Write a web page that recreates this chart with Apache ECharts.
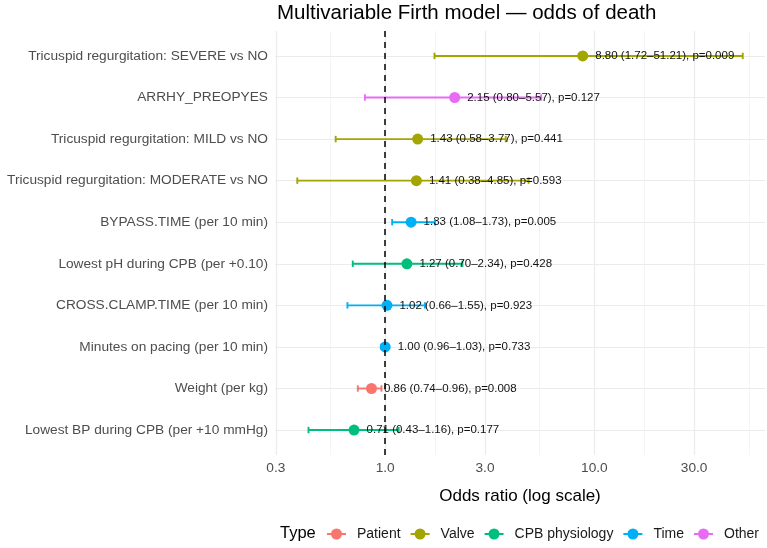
<!DOCTYPE html>
<html>
<head>
<meta charset="utf-8">
<script src="https://cdn.jsdelivr.net/npm/echarts@6/dist/echarts.min.js"></script>
<style>
  html, body { margin: 0; padding: 0; background: #fff; }
  #chart { width: 767px; height: 548px; }
</style>
</head>
<body>
<div id="chart"></div>
<script>
// rows, top to bottom
const terms = [
  "Tricuspid regurgitation: SEVERE vs NO",
  "ARRHY_PREOPYES",
  "Tricuspid regurgitation: MILD vs NO",
  "Tricuspid regurgitation: MODERATE vs NO",
  "BYPASS.TIME (per 10 min)",
  "Lowest pH during CPB (per +0.10)",
  "CROSS.CLAMP.TIME (per 10 min)",
  "Minutes on pacing (per 10 min)",
  "Weight (per kg)",
  "Lowest BP during CPB (per +10 mmHg)"
];
const termTypes = ["Valve", "Other", "Valve", "Valve", "Time", "CPB physiology", "Time", "Time", "Patient", "CPB physiology"];
const oddsRatio = [8.80, 2.15, 1.43, 1.41, 1.33, 1.27, 1.02, 1.00, 0.86, 0.71];
const ciLow     = [1.72, 0.80, 0.58, 0.38, 1.08, 0.70, 0.66, 0.96, 0.74, 0.43];
const ciHigh    = [51.21, 5.57, 3.77, 4.85, 1.73, 2.34, 1.55, 1.03, 0.96, 1.16];
const pValues   = ["0.009", "0.127", "0.441", "0.593", "0.005", "0.428", "0.923", "0.733", "0.008", "0.177"];

const typeNames  = ["Patient", "Valve", "CPB physiology", "Time", "Other"];
const typeColors = ["#F8766D", "#A3A500", "#00BF7D", "#00B0F6", "#E76BF3"];

const majorTicks = [0.3, 1, 3, 10, 30];
const minorTicks = [0.5477, 1.7321, 5.4772, 17.3205, 54.7723];

const FONT = "'Liberation Sans', Arial, sans-serif";

// x limits: data range on log scale, padded 5% each side (like ggplot)
const lo = Math.log10(Math.min(...ciLow));
const hi = Math.log10(Math.max(...ciHigh));
const pad = (hi - lo) * 0.05;
const logMin = lo - pad, logMax = hi + pad;

const rowIdx = terms.map((_, i) => i);
const keyIcon = "path://M0,4.6L19,4.6L19,6.4L0,6.4Z M4,5.5A5.5,5.5 0 1 1 15,5.5A5.5,5.5 0 1 1 4,5.5Z";

function renderErrorBar(params, api) {
  const y = api.value(2);
  const a = api.coord([api.value(0), y]);
  const b = api.coord([api.value(1), y]);
  const cap = 3.2;
  const style = { stroke: api.visual("color"), lineWidth: 1.9 };
  return {
    type: "group",
    children: [
      { type: "line", shape: { x1: a[0], y1: a[1], x2: b[0], y2: b[1] }, style },
      { type: "line", shape: { x1: a[0], y1: a[1] - cap, x2: a[0], y2: a[1] + cap }, style },
      { type: "line", shape: { x1: b[0], y1: b[1] - cap, x2: b[0], y2: b[1] + cap }, style }
    ]
  };
}

const series = [{
  type: "line", data: [], xAxisIndex: 0, yAxisIndex: 0, silent: true, z: 1,
  markLine: {
    silent: true, symbol: "none", label: { show: false },
    lineStyle: { color: "#000", type: [6, 5], width: 1.5 },
    data: [{ xAxis: 1 }]
  }
}];

typeNames.forEach((t, k) => {
  const idx = rowIdx.filter(i => termTypes[i] === t);
  series.push({
    type: "custom", name: t, xAxisIndex: 0, yAxisIndex: 0, z: 2,
    renderItem: renderErrorBar,
    itemStyle: { color: typeColors[k] },
    encode: { x: [0, 1], y: 2 },
    data: idx.map(i => [ciLow[i], ciHigh[i], i])
  });
  series.push({
    type: "scatter", name: t, xAxisIndex: 0, yAxisIndex: 0, z: 3,
    symbolSize: 11,
    itemStyle: { color: typeColors[k], opacity: 1 },
    data: idx.map(i => [oddsRatio[i], i]),
    label: {
      show: true, position: "right", distance: 7,
      fontSize: 11.5, color: "#111", fontFamily: FONT,
      formatter: p => {
        const i = p.data[1];
        return oddsRatio[i].toFixed(2) + " (" + ciLow[i].toFixed(2) + "\u2013" +
          ciHigh[i].toFixed(2) + "), p=" + pValues[i];
      }
    }
  });
});

const chart = echarts.init(document.getElementById("chart"));
chart.setOption({
  backgroundColor: "#fff",
  animation: false,
  textStyle: { fontFamily: FONT },
  title: [
    { text: "Multivariable Firth model \u2014 odds of death", left: 277, top: 3, padding: 0,
      textStyle: { fontSize: 20.5, fontWeight: "normal", color: "#000", fontFamily: FONT } },
    { text: "Type", left: 280, top: 525, padding: 0,
      textStyle: { fontSize: 16.5, fontWeight: "normal", color: "#000", fontFamily: FONT } }
  ],
  legend: {
    data: typeNames.map(n => ({ name: n, icon: keyIcon })),
    left: 327, top: 527, padding: 0,
    itemWidth: 19, itemHeight: 11, itemGap: 10,
    textStyle: { fontSize: 14, color: "#1a1a1a", fontFamily: FONT, padding: [0, 0, 0, 6] }
  },
  grid: { left: 275, right: 2, top: 31, bottom: 93 },
  xAxis: [
    { type: "log", logBase: 10, min: Math.pow(10, logMin), max: Math.pow(10, logMax), show: false },
    {
      type: "value", position: "bottom", min: logMin, max: logMax,
      axisLine: { show: false },
      axisTick: { show: false, customValues: majorTicks.map(Math.log10) },
      axisLabel: {
        customValues: majorTicks.map(Math.log10), margin: 6,
        fontSize: 13.7, color: "#4d4d4d", fontFamily: FONT,
        formatter: v => Math.pow(10, v).toFixed(1)
      },
      splitLine: { show: true, lineStyle: { color: "#ebebeb", width: 1.2 } },
      name: "Odds ratio (log scale)", nameLocation: "middle", nameGap: 33,
      nameTextStyle: { fontSize: 17, color: "#000", fontFamily: FONT }
    },
    {
      type: "value", position: "bottom", min: logMin, max: logMax,
      axisLine: { show: false },
      axisTick: { show: false, customValues: minorTicks.map(Math.log10) },
      axisLabel: { show: false, customValues: minorTicks.map(Math.log10) },
      splitLine: { show: true, lineStyle: { color: "#f1f1f1", width: 0.8 } }
    }
  ],
  yAxis: {
    type: "value", inverse: true, min: -0.6, max: 9.6,
    axisLine: { show: false },
    axisTick: { show: false, customValues: rowIdx },
    axisLabel: {
      customValues: rowIdx, margin: 7,
      fontSize: 13.7, color: "#4d4d4d", fontFamily: FONT,
      formatter: v => terms[Math.round(v)]
    },
    splitLine: { show: true, lineStyle: { color: "#ebebeb", width: 1.2 } }
  },
  series: series
});
window.addEventListener("resize", () => chart.resize());
</script>
</body>
</html>
